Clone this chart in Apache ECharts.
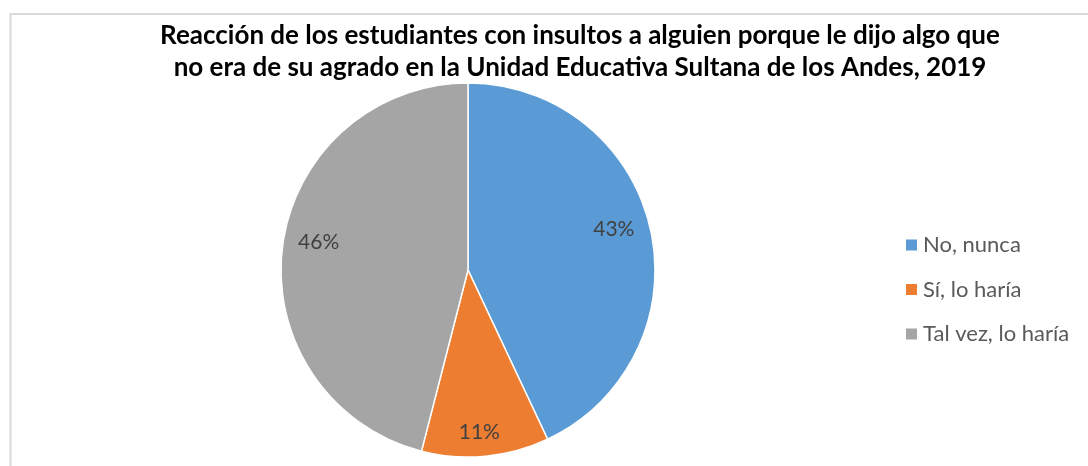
<!DOCTYPE html>
<html>
<head>
<meta charset="utf-8">
<script src="https://cdn.jsdelivr.net/npm/echarts@6/dist/echarts.min.js"></script>
<style>
  html, body { margin: 0; padding: 0; background: #fff; }
  #chart { width: 1088px; height: 466px; }
</style>
</head>
<body>
<div id="chart"></div>
<script>
  const categories = ["No, nunca", "Sí, lo haría", "Tal vez, lo haría"];
  const values = [43, 11, 46];
  const colors = ["#5B9BD5", "#ED7D31", "#A5A5A5"];
  const titleLines = [
    "Reacción de los estudiantes con insultos a alguien porque le dijo algo que",
    "no era de su agrado en la Unidad Educativa Sultana de los Andes, 2019"
  ];

  // small label nudges (px) so the percentages sit where Excel's best-fit put them
  const labelNudge = [[-3, -7], [-3, 10], [2, -9]];

  const chart = echarts.init(document.getElementById("chart"));

  const pieData = categories.map((name, i) => ({
    name,
    value: values[i],
    itemStyle: { color: colors[i] }
  }));

  const option = {
    animation: false,
    graphic: [
      {
        // chart area frame (only top and left edges are visible)
        type: "rect",
        shape: { x: 10.5, y: 14, width: 1200, height: 600 },
        style: { fill: "none", stroke: "#d9d9d9", lineWidth: 2 },
        silent: true
      }
    ],
    title: {
      text: titleLines.join("\n"),
      left: 580,
      textAlign: "center",
      top: 20,
      padding: 0,
      textStyle: {
        fontFamily: "Lato",
        fontWeight: "bold",
        fontSize: 26,
        lineHeight: 32,
        color: "#000"
      }
    },
    legend: {
      orient: "vertical",
      left: 904,
      top: 234,
      padding: 0,
      itemWidth: 13,
      itemHeight: 13,
      itemGap: 22.5,
      icon: "rect",
      data: categories,
      textStyle: {
        fontFamily: "Lato",
        fontSize: 22,
        lineHeight: 22,
        color: "#595959"
      }
    },
    series: [
      {
        type: "pie",
        center: [468, 270],
        radius: 187,
        startAngle: 90,
        clockwise: true,
        data: pieData,
        label: { show: false },
        labelLine: { show: false },
        itemStyle: { borderColor: "#fff", borderWidth: 1.5 },
        emphasis: { disabled: true }
      },
      {
        // transparent ring, only used to place the percentage labels near the rim
        type: "pie",
        center: [468, 270],
        radius: [112, 187],
        startAngle: 90,
        clockwise: true,
        silent: true,
        data: categories.map((name, i) => ({ name, value: values[i] })),
        itemStyle: { color: "transparent" },
        legendHoverLink: false,
        label: {
          show: true,
          position: "inside",
          formatter: "{c}%",
          fontFamily: "Lato",
          fontSize: 21,
          color: "#404040"
        },
        labelLayout: (params) => {
          const n = labelNudge[params.dataIndex] || [0, 0];
          return { dx: n[0], dy: n[1] };
        },
        labelLine: { show: false },
        emphasis: { disabled: true }
      }
    ]
  };

  chart.setOption(option);
</script>
</body>
</html>
